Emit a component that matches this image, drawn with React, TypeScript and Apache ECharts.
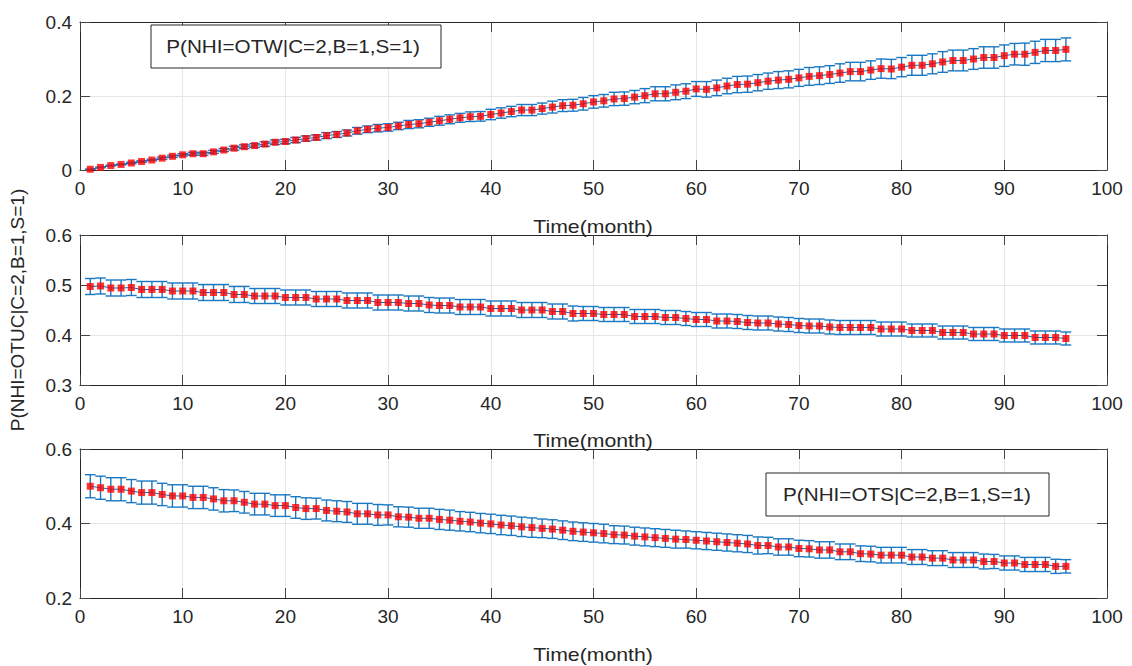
import React, { useEffect, useRef } from "react";
import * as echarts from "echarts";

const months = [
  1, 2, 3, 4, 5, 6, 7, 8, 9, 10, 11, 12, 13, 14, 15, 16, 17, 18, 19, 20,
  21, 22, 23, 24, 25, 26, 27, 28, 29, 30, 31, 32, 33, 34, 35, 36, 37, 38, 39, 40,
  41, 42, 43, 44, 45, 46, 47, 48, 49, 50, 51, 52, 53, 54, 55, 56, 57, 58, 59, 60,
  61, 62, 63, 64, 65, 66, 67, 68, 69, 70, 71, 72, 73, 74, 75, 76, 77, 78, 79, 80,
  81, 82, 83, 84, 85, 86, 87, 88, 89, 90, 91, 92, 93, 94, 95, 96,
];

// P(NHI=OTW|C=2,B=1,S=1)
const otwMean = [
  0.002, 0.007, 0.012, 0.015, 0.019, 0.023, 0.027, 0.032, 0.037, 0.041,
  0.044, 0.044, 0.049, 0.054, 0.059, 0.063, 0.066, 0.070, 0.075, 0.077,
  0.081, 0.085, 0.088, 0.093, 0.096, 0.100, 0.106, 0.110, 0.113, 0.115,
  0.119, 0.123, 0.125, 0.129, 0.133, 0.137, 0.141, 0.144, 0.145, 0.150,
  0.154, 0.158, 0.162, 0.162, 0.166, 0.170, 0.174, 0.175, 0.179, 0.184,
  0.187, 0.192, 0.193, 0.197, 0.201, 0.206, 0.206, 0.210, 0.213, 0.219,
  0.218, 0.222, 0.227, 0.231, 0.232, 0.236, 0.240, 0.243, 0.245, 0.249,
  0.253, 0.255, 0.258, 0.262, 0.266, 0.266, 0.270, 0.274, 0.273, 0.278,
  0.283, 0.283, 0.287, 0.292, 0.296, 0.296, 0.300, 0.304, 0.304, 0.309,
  0.313, 0.313, 0.318, 0.323, 0.323, 0.326,
];
const otwErr = [
  0.000, 0.001, 0.001, 0.001, 0.002, 0.002, 0.002, 0.003, 0.003, 0.003,
  0.004, 0.004, 0.004, 0.004, 0.005, 0.005, 0.005, 0.006, 0.006, 0.006,
  0.007, 0.007, 0.007, 0.008, 0.008, 0.008, 0.009, 0.009, 0.010, 0.010,
  0.010, 0.011, 0.011, 0.011, 0.012, 0.012, 0.012, 0.013, 0.013, 0.014,
  0.014, 0.014, 0.015, 0.015, 0.015, 0.016, 0.016, 0.016, 0.017, 0.017,
  0.017, 0.018, 0.018, 0.018, 0.019, 0.019, 0.019, 0.020, 0.020, 0.020,
  0.021, 0.021, 0.021, 0.022, 0.022, 0.022, 0.022, 0.023, 0.023, 0.023,
  0.024, 0.024, 0.024, 0.025, 0.025, 0.025, 0.025, 0.026, 0.026, 0.026,
  0.027, 0.027, 0.027, 0.028, 0.028, 0.028, 0.028, 0.029, 0.029, 0.029,
  0.029, 0.030, 0.030, 0.030, 0.030, 0.031,
];

// P(NHI=OTUC|C=2,B=1,S=1)
const otucMean = [
  0.497, 0.498, 0.494, 0.494, 0.495, 0.491, 0.491, 0.491, 0.488, 0.488,
  0.488, 0.485, 0.485, 0.485, 0.481, 0.481, 0.478, 0.478, 0.478, 0.475,
  0.475, 0.475, 0.472, 0.472, 0.472, 0.469, 0.469, 0.469, 0.465, 0.465,
  0.465, 0.463, 0.463, 0.460, 0.459, 0.459, 0.456, 0.456, 0.456, 0.453,
  0.453, 0.453, 0.450, 0.450, 0.450, 0.447, 0.447, 0.443, 0.443, 0.443,
  0.441, 0.441, 0.441, 0.437, 0.437, 0.437, 0.435, 0.435, 0.433, 0.431,
  0.431, 0.428, 0.428, 0.427, 0.425, 0.424, 0.424, 0.422, 0.421, 0.419,
  0.418, 0.418, 0.416, 0.415, 0.415, 0.415, 0.415, 0.412, 0.412, 0.412,
  0.409, 0.409, 0.409, 0.405, 0.405, 0.405, 0.402, 0.402, 0.402, 0.399,
  0.399, 0.399, 0.395, 0.395, 0.395, 0.393,
];
const otucErr = [
  0.016, 0.016, 0.016, 0.016, 0.016, 0.016, 0.016, 0.016, 0.016, 0.016,
  0.016, 0.016, 0.016, 0.016, 0.016, 0.016, 0.015, 0.015, 0.015, 0.015,
  0.015, 0.015, 0.015, 0.015, 0.015, 0.015, 0.015, 0.015, 0.015, 0.015,
  0.015, 0.015, 0.015, 0.015, 0.015, 0.015, 0.015, 0.015, 0.015, 0.015,
  0.015, 0.015, 0.015, 0.015, 0.015, 0.015, 0.015, 0.015, 0.014, 0.014,
  0.014, 0.014, 0.014, 0.014, 0.014, 0.014, 0.014, 0.014, 0.014, 0.014,
  0.014, 0.014, 0.014, 0.014, 0.014, 0.014, 0.014, 0.014, 0.014, 0.014,
  0.014, 0.014, 0.014, 0.014, 0.014, 0.014, 0.014, 0.014, 0.014, 0.014,
  0.013, 0.013, 0.013, 0.013, 0.013, 0.013, 0.013, 0.013, 0.013, 0.013,
  0.013, 0.013, 0.013, 0.013, 0.013, 0.013,
];

// P(NHI=OTS|C=2,B=1,S=1)
const otsMean = [
  0.500, 0.496, 0.492, 0.492, 0.487, 0.483, 0.483, 0.478, 0.474, 0.474,
  0.470, 0.470, 0.466, 0.461, 0.461, 0.457, 0.452, 0.452, 0.448, 0.448,
  0.443, 0.440, 0.440, 0.435, 0.433, 0.431, 0.426, 0.426, 0.423, 0.423,
  0.418, 0.417, 0.414, 0.414, 0.411, 0.409, 0.406, 0.404, 0.401, 0.399,
  0.396, 0.394, 0.391, 0.389, 0.387, 0.385, 0.382, 0.379, 0.377, 0.375,
  0.373, 0.370, 0.369, 0.366, 0.364, 0.362, 0.360, 0.358, 0.357, 0.355,
  0.353, 0.351, 0.349, 0.347, 0.345, 0.341, 0.341, 0.337, 0.337, 0.333,
  0.332, 0.329, 0.329, 0.324, 0.324, 0.319, 0.318, 0.315, 0.315, 0.315,
  0.310, 0.310, 0.307, 0.307, 0.302, 0.302, 0.302, 0.298, 0.298, 0.294,
  0.294, 0.290, 0.290, 0.290, 0.285, 0.285,
];
const otsErr = [
  0.031, 0.031, 0.031, 0.031, 0.031, 0.031, 0.031, 0.030, 0.030, 0.030,
  0.030, 0.030, 0.030, 0.030, 0.029, 0.029, 0.029, 0.029, 0.029, 0.029,
  0.029, 0.029, 0.028, 0.028, 0.028, 0.028, 0.028, 0.028, 0.028, 0.027,
  0.027, 0.027, 0.027, 0.027, 0.027, 0.027, 0.026, 0.026, 0.026, 0.026,
  0.026, 0.026, 0.026, 0.026, 0.025, 0.025, 0.025, 0.025, 0.025, 0.025,
  0.025, 0.024, 0.024, 0.024, 0.024, 0.024, 0.024, 0.024, 0.023, 0.023,
  0.023, 0.023, 0.023, 0.023, 0.023, 0.023, 0.022, 0.022, 0.022, 0.022,
  0.022, 0.022, 0.022, 0.021, 0.021, 0.021, 0.021, 0.021, 0.021, 0.021,
  0.020, 0.020, 0.020, 0.020, 0.020, 0.020, 0.020, 0.020, 0.019, 0.019,
  0.019, 0.019, 0.019, 0.019, 0.019, 0.018,
];

const xTicks = { min: 0, max: 100, interval: 10 };
const yRanges = [
  { min: 0, max: 0.4, interval: 0.2 },
  { min: 0.3, max: 0.6, interval: 0.1 },
  { min: 0.2, max: 0.6, interval: 0.2 },
];
const xTitle = "Time(month)";
const yTitle = "P(NHI=OTUC|C=2,B=1,S=1)";
const legendOTW = "P(NHI=OTW|C=2,B=1,S=1)";
const legendOTS = "P(NHI=OTS|C=2,B=1,S=1)";

const FONT = "'Liberation Sans', Arial, Helvetica, sans-serif";
const AXIS = "#262626";
const BLUE = "#0072BD";

const panels = [
  { mean: otwMean, err: otwErr },
  { mean: otucMean, err: otucErr },
  { mean: otsMean, err: otsErr },
];

const grids = [
  { left: 80, top: 22, width: 1027, height: 148 },
  { left: 80, top: 235, width: 1027, height: 150 },
  { left: 80, top: 449, width: 1027, height: 149 },
];

function fmtY(v: number) {
  if (Math.abs(v) < 1e-9) return "0";
  return (Math.round(v * 10) / 10).toFixed(1);
}

function errorRender(params: any, api: any) {
  const x = api.value(0);
  const lo = api.value(1);
  const hi = api.value(2);
  const pLo = api.coord([x, lo]);
  const pHi = api.coord([x, hi]);
  const hw = 5.3;
  const style = { stroke: "#1a78c2", lineWidth: 1.4, fill: null };
  return {
    type: "group",
    children: [
      { type: "line", shape: { x1: pLo[0], y1: pLo[1], x2: pHi[0], y2: pHi[1] }, style },
      { type: "line", shape: { x1: pLo[0] - hw, y1: pLo[1], x2: pLo[0] + hw, y2: pLo[1] }, style },
      { type: "line", shape: { x1: pHi[0] - hw, y1: pHi[1], x2: pHi[0] + hw, y2: pHi[1] }, style },
    ],
  };
}

export default function App() {
  const ref = useRef<HTMLDivElement>(null);

  useEffect(() => {
    if (!ref.current) return;
    const chart = echarts.init(ref.current, undefined, { renderer: "svg" });

    const xAxis: any[] = [];
    const yAxis: any[] = [];
    const series: any[] = [];

    grids.forEach((_, gi) => {
      xAxis.push({
        type: "value",
        gridIndex: gi,
        position: "bottom",
        ...xTicks,
        axisLine: { show: true, onZero: false, lineStyle: { color: AXIS, width: 1 } },
        axisTick: { show: true, inside: true, length: 10, lineStyle: { color: "#444", width: 1 } },
        axisLabel: { show: true, color: AXIS, fontSize: 19, fontFamily: FONT, margin: 9 },
        splitLine: { show: true, lineStyle: { color: "#e6e6e6", width: 1 } },
      });
      xAxis.push({
        type: "value",
        gridIndex: gi,
        position: "top",
        ...xTicks,
        axisLine: { show: true, onZero: false, lineStyle: { color: AXIS, width: 1 } },
        axisTick: { show: true, inside: true, length: 10, lineStyle: { color: "#444", width: 1 } },
        axisLabel: { show: false },
        splitLine: { show: false },
      });
      yAxis.push({
        type: "value",
        gridIndex: gi,
        position: "left",
        ...yRanges[gi],
        axisLine: { show: true, onZero: false, lineStyle: { color: AXIS, width: 1 } },
        axisTick: { show: true, inside: true, length: 10, lineStyle: { color: "#444", width: 1 } },
        axisLabel: { show: true, color: AXIS, fontSize: 19, fontFamily: FONT, margin: 8, formatter: fmtY },
        splitLine: { show: true, lineStyle: { color: "#e6e6e6", width: 1 } },
      });
      yAxis.push({
        type: "value",
        gridIndex: gi,
        position: "right",
        ...yRanges[gi],
        axisLine: { show: true, onZero: false, lineStyle: { color: AXIS, width: 1 } },
        axisTick: { show: true, inside: true, length: 10, lineStyle: { color: "#444", width: 1 } },
        axisLabel: { show: false },
        splitLine: { show: false },
      });

      const p = panels[gi];
      series.push({
        type: "custom",
        xAxisIndex: gi * 2,
        yAxisIndex: gi * 2,
        renderItem: errorRender,
        encode: { x: 0, y: [1, 2] },
        data: months.map((m, i) => [m, p.mean[i] - p.err[i], p.mean[i] + p.err[i]]),
        z: 2,
        silent: true,
      });
      series.push({
        type: "line",
        xAxisIndex: gi * 2,
        yAxisIndex: gi * 2,
        data: months.map((m, i) => [m, p.mean[i]]),
        showSymbol: false,
        symbol: "none",
        lineStyle: { color: BLUE, width: 1 },
        z: 3,
        silent: true,
      });
      series.push({
        type: "scatter",
        xAxisIndex: gi * 2,
        yAxisIndex: gi * 2,
        data: months.map((m, i) => [m, p.mean[i]]),
        symbol: "rect",
        symbolSize: 7,
        itemStyle: { color: "#ff0000" },
        z: 4,
        silent: true,
      });
    });

    const titleStyle = { fill: AXIS, font: `18px ${FONT}`, textAlign: "center", textVerticalAlign: "middle" };
    const graphic: any[] = [
      { type: "text", x: 593, y: 227, scaleX: 1.18, style: { ...titleStyle, text: xTitle } },
      { type: "text", x: 593, y: 441, scaleX: 1.18, style: { ...titleStyle, text: xTitle } },
      { type: "text", x: 593, y: 655, scaleX: 1.18, style: { ...titleStyle, text: xTitle } },
      {
        type: "text",
        x: 17,
        y: 310,
        rotation: Math.PI / 2,
        style: { fill: AXIS, font: `19px ${FONT}`, textAlign: "center", textVerticalAlign: "middle", text: yTitle },
      },
      {
        type: "rect",
        shape: { x: 151, y: 25, width: 290, height: 43 },
        style: { fill: "#fff", stroke: AXIS, lineWidth: 1 },
        z: 10,
      },
      { type: "text", x: 293, y: 47, scaleX: 1.15, z: 11, style: { ...titleStyle, text: legendOTW } },
      {
        type: "rect",
        shape: { x: 766, y: 473, width: 283, height: 43 },
        style: { fill: "#fff", stroke: AXIS, lineWidth: 1 },
        z: 10,
      },
      { type: "text", x: 907, y: 495, scaleX: 1.15, z: 11, style: { ...titleStyle, text: legendOTS } },
    ];

    chart.setOption({
      animation: false,
      backgroundColor: "#ffffff",
      grid: grids.map((g) => ({ ...g, containLabel: false })),
      xAxis,
      yAxis,
      series,
      graphic,
    });

    return () => chart.dispose();
  }, []);

  return (
    <div
      ref={ref}
      style={{ position: "fixed", left: 0, top: 0, width: 1132, height: 666, background: "#fff" }}
    />
  );
}
